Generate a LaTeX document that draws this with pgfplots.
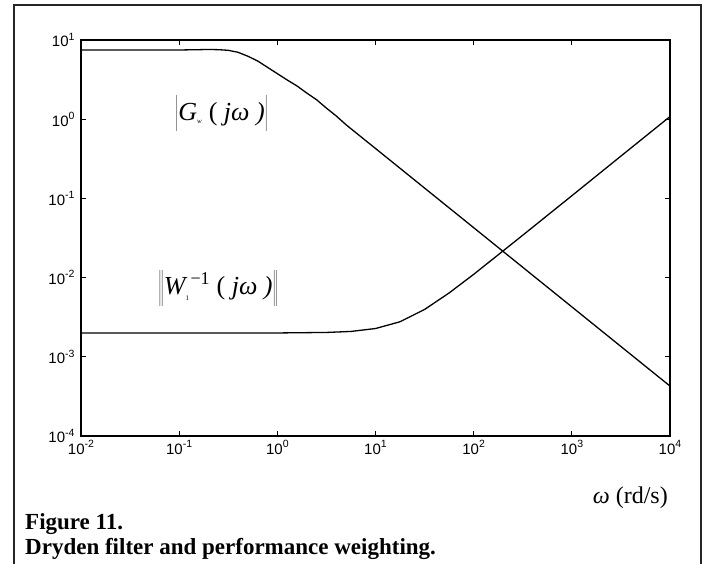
\documentclass[border=0pt]{standalone}
\usepackage{fontspec}
\setmainfont{Liberation Serif}
\newfontfamily\axfont{Liberation Sans}
\usepackage{pgfplots}
\pgfplotsset{compat=1.18}

% tick label: ten with a small raised exponent
\newcommand{\ex}[1]{{\axfont\fontsize{15}{17}\selectfont 10\raisebox{6.5pt}{\fontsize{10.5}{11}\selectfont #1}}}

% |G_w(jw)|, Dryden filter
\pgfplotstableread{
w        g
0.01     7.48
0.0316   7.48
0.1      7.48
0.158    7.55
0.2      7.59
0.251    7.55
0.316    7.41
0.398    7.00
0.501    6.24
0.631    5.43
0.794    4.52
1        3.76
1.259    3.13
1.585    2.63
1.995    2.14
2.512    1.76
3.162    1.38
3.981    1.10
5.012    0.851
6.31     0.676
7.943    0.537
10       0.427
31.62    0.135
100      0.0427
316.2    0.0135
1000     0.00427
3162     0.00135
10000    0.000427
}\gtable

% ||W_1^-1(jw)||, performance weighting
\pgfplotstableread{
w        m
0.01     0.00200
0.1      0.00200
1        0.00200
3.162    0.00203
5.623    0.00209
10       0.002275
17.78    0.00277
31.62    0.00396
56.23    0.00640
100      0.01099
316.2    0.0343
1000     0.108
3162     0.342
10000    1.08
}\wtable

\begin{document}
\begin{tikzpicture}
\useasboundingbox (-81pt,-128pt) rectangle (624pt,436pt);
% outer frame of the figure
\draw[line width=1.3pt, black!85] (-67pt,-131pt) -- (-67pt,431pt) -- (620pt,431pt) -- (620pt,-131pt);
\begin{axis}[
    at={(0pt,0pt)}, anchor=south west,
    scale only axis,
    width=589pt, height=396pt,
    xmode=log, ymode=log,
    xmin=1e-2, xmax=1e4,
    ymin=1e-4, ymax=10,
    xminorticks=false, yminorticks=false,
    xtick={1e-2,1e-1,1,1e1,1e2,1e3,1e4},
    xticklabels={\ex{-2},\ex{-1},\ex{0},\ex{1},\ex{2},\ex{3},\ex{4}},
    ytick={1e-4,1e-3,1e-2,1e-1,1,1e1},
    yticklabels={\ex{-4},\ex{-3},\ex{-2},\ex{-1},\ex{0},\ex{1}},
    tick align=inside,
    major tick length=5pt,
    tick style={line width=1pt, black},
    axis line style={line width=1.5pt},
    xticklabel style={yshift=-1pt},
    yticklabel style={xshift=-3pt},
]
\addplot[black, line width=1.3pt] table[x=w, y=g] {\gtable};
\addplot[black, line width=1.3pt] table[x=w, y=m] {\wtable};
\node at (axis cs:0.27,1.2) {\fontsize{26}{30}\selectfont
  $\left|\rule[-10pt]{0pt}{36pt}\mbox{\itshape G}_{\mbox{\fontsize{7}{8}\selectfont\itshape w}}\mbox{ ( \itshape jω )}\right|$};
\node at (axis cs:0.25,0.0075) {\fontsize{26}{30}\selectfont
  $\left\|\rule[-10pt]{0pt}{36pt}\mbox{\itshape W}_{\mbox{\fontsize{7}{8}\selectfont 1}}^{\hspace{5pt}\mbox{\fontsize{18}{20}\selectfont −1}}\mbox{ ( \itshape jω )}\right\|$};
\end{axis}
\node[anchor=base east, inner sep=0pt] at (587pt,-68pt) {\fontsize{24}{28}\selectfont \textit{ω} (rd/s)};
\node[anchor=base west, inner sep=0pt] at (-56pt,-94pt) {\fontsize{23}{26}\selectfont\bfseries Figure 11.};
\node[anchor=base west, inner sep=0pt] at (-56pt,-119pt) {\fontsize{23}{26}\selectfont\bfseries Dryden filter and performance weighting.};
\end{tikzpicture}
\end{document}
